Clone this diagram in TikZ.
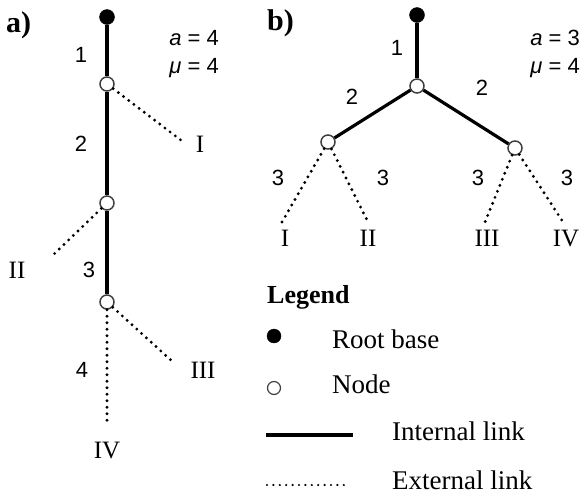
\documentclass[tikz,border=0pt]{standalone}
\usepackage{fontspec}
\setmainfont{Liberation Serif}
\newfontfamily\lblsans{Liberation Sans}
\begin{document}
\begin{tikzpicture}[x=1pt,y=-1pt,
  rootdot/.style={circle,fill=black,draw=black,inner sep=0pt,minimum size=15pt},
  opennode/.style={circle,fill=white,draw=black!75,line width=1.5pt,inner sep=0pt,minimum size=14pt},
  intl/.style={line width=3.2pt},
  extl/.style={line width=3.2pt,line cap=round,dash pattern=on 0pt off 6.5pt},
  extlegend/.style={line width=2.4pt,line cap=round,dash pattern=on 0pt off 6.4pt},
  num/.style={inner sep=0pt,font=\fontsize{22}{26}\lblsans\selectfont},
  param/.style={inner sep=0pt,anchor=base east,font=\fontsize{22}{26}\lblsans\selectfont},
  rom/.style={inner sep=0pt,font=\fontsize{25}{29}\selectfont},
  panel/.style={inner sep=0pt,anchor=base west,font=\fontsize{30}{34}\bfseries\selectfont},
  legtext/.style={inner sep=0pt,anchor=base west,font=\fontsize{27}{32}\selectfont}
]
\useasboundingbox (0,0) rectangle (580,496);

% ---------- panel a ----------
\node[panel] (pa) at (6,32) {a)};
\node[rootdot] (ra) at (107,17) {};
\node[opennode] (a1) at (107,84) {};
\node[opennode] (a2) at (107,203) {};
\node[opennode] (a3) at (107,302) {};
\coordinate (aeI) at (182,141);
\coordinate (aeII) at (52,256);
\coordinate (aeIII) at (173,362);
\coordinate (aeIV) at (107,426);
\draw[intl] (ra) -- (a1);
\draw[intl] (a1) -- (a2);
\draw[intl] (a2) -- (a3);
\draw[extl] (a1) -- (aeI);
\draw[extl] (a2) -- (aeII);
\draw[extl] (a3) -- (aeIII);
\draw[extl] (a3) -- (aeIV);
\node[num] (la1) at (81,55) {1};
\node[num] (la2) at (81,144) {2};
\node[num] (la3) at (89,270) {3};
\node[num] (la4) at (82,370) {4};
\node[rom] (aI) at (200,144) {I};
\node[rom] (aII) at (17,270) {II};
\node[rom] (aIII) at (203,370) {III};
\node[rom] (aIV) at (107,450) {IV};
\node[param] (aa) at (219,45) {\itshape a\upshape{} = 4};
\node[param] (amu) at (219,73) {\itshape μ\upshape{} = 4};

% ---------- panel b ----------
\node[panel] (pb) at (267,30) {b)};
\node[rootdot] (rb) at (417,15) {};
\node[opennode] (b0) at (417,86) {};
\node[opennode] (bL) at (328,142) {};
\node[opennode] (bR) at (515,148) {};
\coordinate (beI) at (282,222);
\coordinate (beII) at (368,222);
\coordinate (beIII) at (485,222);
\coordinate (beIV) at (563,222);
\draw[intl] (rb) -- (b0);
\draw[intl] (b0) -- (bL);
\draw[intl] (b0) -- (bR);
\draw[extl] (bL) -- (beI);
\draw[extl] (bL) -- (beII);
\draw[extl] (bR) -- (beIII);
\draw[extl] (bR) -- (beIV);
\node[num] (lb1) at (397,48) {1};
\node[num] (lb2l) at (352,97) {2};
\node[num] (lb2r) at (482,88) {2};
\node[num] (lb3a) at (278,178) {3};
\node[num] (lb3b) at (383,178) {3};
\node[num] (lb3c) at (478,178) {3};
\node[num] (lb3d) at (567,178) {3};
\node[rom] (bI) at (285,238) {I};
\node[rom] (bII) at (368,238) {II};
\node[rom] (bIII) at (487,238) {III};
\node[rom] (bIV) at (566,238) {IV};
\node[param] (ba) at (580,45) {\itshape a\upshape{} = 3};
\node[param] (bmu) at (580,73) {\itshape μ\upshape{} = 4};

% ---------- legend ----------
\node[legtext,font=\fontsize{26}{30}\bfseries\selectfont] (leg) at (267,303) {Legend};
\node[rootdot,minimum size=14pt] (lroot) at (274,336) {};
\node[opennode,minimum size=13pt,line width=1.2pt] (lnode) at (274,388) {};
\node[legtext] (lrootT) at (332,348) {Root base};
\node[legtext] (lnodeT) at (332,393) {Node};
\coordinate (li1) at (266,435);
\coordinate (li2) at (353,435);
\draw[intl] (li1) -- (li2);
\node[legtext] (liT) at (392,440) {Internal link};
\coordinate (le1) at (267,485);
\coordinate (le2) at (350,485);
\draw[extlegend] (le1) -- (le2);
\node[legtext] (leT) at (392,489) {External link};
\end{tikzpicture}
\end{document}
